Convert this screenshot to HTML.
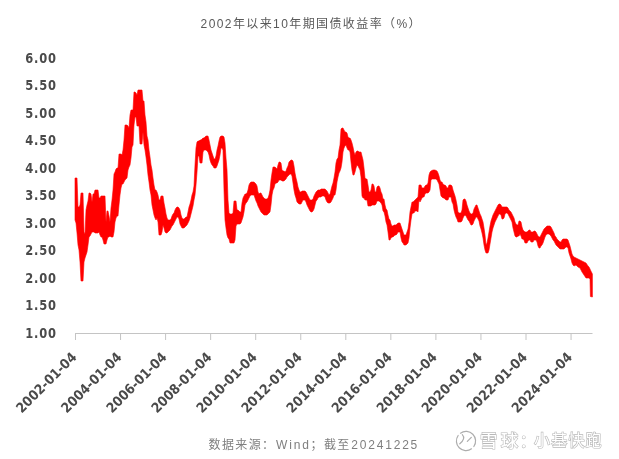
<!DOCTYPE html>
<html><head><meta charset="utf-8"><style>
html,body{margin:0;padding:0;background:#fff;}
body{width:619px;height:459px;overflow:hidden;position:relative;}
svg{position:absolute;left:0;top:0;}
.t{font-family:"Liberation Sans","Noto Sans CJK SC",sans-serif;fill:#595959;}
.lab{font-family:"DejaVu Sans",sans-serif;font-weight:bold;fill:#4a4a4a;font-size:12.5px;}
.wm{font-family:"Liberation Sans","Noto Sans CJK SC",sans-serif;}
</style></head><body>
<svg width="619" height="459" viewBox="0 0 619 459">
<text class="t" x="200.6" y="27.5" font-size="12" letter-spacing="1.4">2002年以来10年期国债收益率（%）</text>
<g class="lab">
<text transform="translate(56.9,62.50) scale(0.92,1.13)" text-anchor="end" letter-spacing="0.9">6.00</text>
<text transform="translate(56.9,90.00) scale(0.92,1.13)" text-anchor="end" letter-spacing="0.9">5.50</text>
<text transform="translate(56.9,117.50) scale(0.92,1.13)" text-anchor="end" letter-spacing="0.9">5.00</text>
<text transform="translate(56.9,145.00) scale(0.92,1.13)" text-anchor="end" letter-spacing="0.9">4.50</text>
<text transform="translate(56.9,172.50) scale(0.92,1.13)" text-anchor="end" letter-spacing="0.9">4.00</text>
<text transform="translate(56.9,200.00) scale(0.92,1.13)" text-anchor="end" letter-spacing="0.9">3.50</text>
<text transform="translate(56.9,227.50) scale(0.92,1.13)" text-anchor="end" letter-spacing="0.9">3.00</text>
<text transform="translate(56.9,255.00) scale(0.92,1.13)" text-anchor="end" letter-spacing="0.9">2.50</text>
<text transform="translate(56.9,282.50) scale(0.92,1.13)" text-anchor="end" letter-spacing="0.9">2.00</text>
<text transform="translate(56.9,310.00) scale(0.92,1.13)" text-anchor="end" letter-spacing="0.9">1.50</text>
<text transform="translate(56.9,337.50) scale(0.92,1.13)" text-anchor="end" letter-spacing="0.9">1.00</text>
</g>
<g stroke="#c4c4c4" stroke-width="1">
<line x1="75" y1="333.5" x2="592.5" y2="333.5"/>
<line x1="75.50" y1="333" x2="75.50" y2="340"/>
<line x1="120.55" y1="333" x2="120.55" y2="340"/>
<line x1="165.60" y1="333" x2="165.60" y2="340"/>
<line x1="210.65" y1="333" x2="210.65" y2="340"/>
<line x1="255.70" y1="333" x2="255.70" y2="340"/>
<line x1="300.75" y1="333" x2="300.75" y2="340"/>
<line x1="345.80" y1="333" x2="345.80" y2="340"/>
<line x1="390.85" y1="333" x2="390.85" y2="340"/>
<line x1="435.90" y1="333" x2="435.90" y2="340"/>
<line x1="480.95" y1="333" x2="480.95" y2="340"/>
<line x1="526.00" y1="333" x2="526.00" y2="340"/>
<line x1="571.05" y1="333" x2="571.05" y2="340"/>
</g>
<g class="lab" style="font-stretch:condensed;font-size:13.7px">
<text transform="translate(77.50,358.00) rotate(-45)" text-anchor="end">2002-01-04</text>
<text transform="translate(122.55,358.00) rotate(-45)" text-anchor="end">2004-01-04</text>
<text transform="translate(167.60,358.00) rotate(-45)" text-anchor="end">2006-01-04</text>
<text transform="translate(212.65,358.00) rotate(-45)" text-anchor="end">2008-01-04</text>
<text transform="translate(257.70,358.00) rotate(-45)" text-anchor="end">2010-01-04</text>
<text transform="translate(302.75,358.00) rotate(-45)" text-anchor="end">2012-01-04</text>
<text transform="translate(347.80,358.00) rotate(-45)" text-anchor="end">2014-01-04</text>
<text transform="translate(392.85,358.00) rotate(-45)" text-anchor="end">2016-01-04</text>
<text transform="translate(437.90,358.00) rotate(-45)" text-anchor="end">2018-01-04</text>
<text transform="translate(482.95,358.00) rotate(-45)" text-anchor="end">2020-01-04</text>
<text transform="translate(528.00,358.00) rotate(-45)" text-anchor="end">2022-01-04</text>
<text transform="translate(573.05,358.00) rotate(-45)" text-anchor="end">2024-01-04</text>
</g>
<polygon points="75.0,178.0 76.0,178.0 77.0,178.0 78.0,207.0 79.0,207.0 80.0,205.0 81.0,193.0 82.0,193.0 83.0,193.0 84.0,232.0 85.0,234.0 86.0,210.0 87.0,205.0 88.0,201.0 89.0,193.0 90.0,193.0 91.0,194.0 92.0,202.0 93.0,194.0 94.0,194.0 95.0,190.0 96.0,190.0 97.0,190.0 98.0,190.0 99.0,198.0 100.0,198.0 101.0,196.0 102.0,196.0 103.0,196.0 104.0,196.0 105.0,196.0 106.0,222.0 107.0,211.0 108.0,211.0 109.0,216.0 110.0,222.0 111.0,208.0 112.0,200.0 113.0,190.0 114.0,174.0 115.0,172.0 116.0,169.0 117.0,168.0 118.0,168.0 119.0,154.0 120.0,154.0 121.0,154.0 122.0,155.0 123.0,150.0 124.0,140.0 125.0,125.0 126.0,125.0 127.0,125.0 128.0,126.0 129.0,128.0 130.0,115.0 131.0,110.0 132.0,110.0 133.0,110.0 134.0,92.0 135.0,92.0 136.0,93.0 137.0,95.0 138.0,90.0 139.0,90.0 140.0,90.0 141.0,90.0 142.0,90.0 143.0,101.0 144.0,101.0 145.0,115.0 146.0,122.0 147.0,136.0 148.0,140.0 149.0,150.0 150.0,157.0 151.0,165.0 152.0,170.0 153.0,178.0 154.0,185.0 155.0,190.0 156.0,190.0 157.0,192.0 158.0,195.0 159.0,200.0 160.0,200.0 161.0,196.0 162.0,196.0 163.0,196.0 164.0,203.0 165.0,208.0 166.0,214.0 167.0,218.0 168.0,220.0 169.0,220.0 170.0,220.0 171.0,219.0 172.0,216.0 173.0,214.0 174.0,213.0 175.0,210.0 176.0,208.0 177.0,207.0 178.0,207.0 179.0,208.0 180.0,210.0 181.0,215.0 182.0,218.0 183.0,219.0 184.0,219.0 185.0,218.0 186.0,217.0 187.0,217.0 188.0,212.0 189.0,207.0 190.0,204.0 191.0,200.0 192.0,195.0 193.0,192.0 194.0,186.0 195.0,165.0 196.0,148.0 197.0,142.0 198.0,141.0 199.0,141.0 200.0,140.0 201.0,140.0 202.0,139.0 203.0,138.0 204.0,138.0 205.0,137.0 206.0,136.0 207.0,136.0 208.0,136.0 209.0,140.0 210.0,145.0 211.0,150.0 212.0,153.0 213.0,156.0 214.0,159.0 215.0,159.0 216.0,156.0 217.0,150.0 218.0,146.0 219.0,141.0 220.0,137.0 221.0,136.0 222.0,136.0 223.0,136.0 224.0,137.0 225.0,143.0 226.0,158.0 227.0,170.0 228.0,200.0 229.0,213.0 230.0,214.0 231.0,214.0 232.0,214.0 233.0,213.0 234.0,201.0 235.0,201.0 236.0,201.0 237.0,210.0 238.0,210.0 239.0,211.0 240.0,212.0 241.0,212.0 242.0,203.0 243.0,198.0 244.0,196.0 245.0,194.0 246.0,194.0 247.0,193.0 248.0,190.0 249.0,185.0 250.0,183.0 251.0,182.0 252.0,182.0 253.0,182.0 254.0,182.0 255.0,183.0 256.0,184.0 257.0,186.0 258.0,192.0 259.0,194.0 260.0,193.0 261.0,193.0 262.0,195.0 263.0,197.0 264.0,198.0 265.0,199.0 266.0,199.0 267.0,199.0 268.0,198.0 269.0,195.0 270.0,190.0 271.0,180.0 272.0,173.0 273.0,167.0 274.0,167.0 275.0,167.0 276.0,168.0 277.0,169.0 278.0,165.0 279.0,162.0 280.0,162.0 281.0,163.0 282.0,170.0 283.0,171.0 284.0,171.0 285.0,172.0 286.0,171.0 287.0,168.0 288.0,166.0 289.0,162.0 290.0,161.0 291.0,160.0 292.0,160.0 293.0,161.0 294.0,166.0 295.0,173.0 296.0,178.0 297.0,182.0 298.0,187.0 299.0,190.0 300.0,192.0 301.0,192.0 302.0,191.0 303.0,191.0 304.0,191.0 305.0,191.0 306.0,192.0 307.0,194.0 308.0,196.0 309.0,198.0 310.0,200.0 311.0,200.0 312.0,200.0 313.0,199.0 314.0,196.0 315.0,194.0 316.0,192.0 317.0,191.0 318.0,190.0 319.0,190.0 320.0,190.0 321.0,189.0 322.0,189.0 323.0,189.0 324.0,189.0 325.0,189.0 326.0,190.0 327.0,191.0 328.0,193.0 329.0,195.0 330.0,194.0 331.0,190.0 332.0,186.0 333.0,183.0 334.0,178.0 335.0,172.0 336.0,163.0 337.0,159.0 338.0,158.0 339.0,150.0 340.0,145.0 341.0,129.0 342.0,128.0 343.0,128.0 344.0,130.0 345.0,132.0 346.0,132.0 347.0,133.0 348.0,137.0 349.0,138.0 350.0,138.0 351.0,140.0 352.0,143.0 353.0,147.0 354.0,152.0 355.0,155.0 356.0,152.0 357.0,151.0 358.0,151.0 359.0,152.0 360.0,152.0 361.0,152.0 362.0,156.0 363.0,160.0 364.0,168.0 365.0,178.0 366.0,179.0 367.0,179.0 368.0,185.0 369.0,192.0 370.0,192.0 371.0,190.0 372.0,184.0 373.0,184.0 374.0,186.0 375.0,192.0 376.0,192.0 377.0,187.0 378.0,186.0 379.0,186.0 380.0,188.0 381.0,192.0 382.0,194.0 383.0,199.0 384.0,199.0 385.0,205.0 386.0,209.0 387.0,210.0 388.0,215.0 389.0,219.0 390.0,220.0 391.0,224.0 392.0,226.0 393.0,226.0 394.0,225.0 395.0,225.0 396.0,225.0 397.0,224.0 398.0,223.0 399.0,223.0 400.0,223.0 401.0,226.0 402.0,229.0 403.0,232.0 404.0,235.0 405.0,235.0 406.0,235.0 407.0,232.0 408.0,229.0 409.0,222.0 410.0,212.0 411.0,207.0 412.0,202.0 413.0,202.0 414.0,201.0 415.0,200.0 416.0,199.0 417.0,198.0 418.0,197.0 419.0,185.0 420.0,185.0 421.0,185.0 422.0,188.0 423.0,188.0 424.0,188.0 425.0,186.0 426.0,185.0 427.0,185.0 428.0,183.0 429.0,175.0 430.0,172.0 431.0,171.0 432.0,170.5 433.0,170.0 434.0,170.0 435.0,170.0 436.0,170.5 437.0,171.0 438.0,173.0 439.0,176.0 440.0,180.0 441.0,182.0 442.0,182.0 443.0,184.0 444.0,185.0 445.0,185.0 446.0,186.0 447.0,188.0 448.0,188.0 449.0,185.0 450.0,185.0 451.0,185.0 452.0,186.0 453.0,190.0 454.0,193.0 455.0,196.0 456.0,200.0 457.0,205.0 458.0,212.0 459.0,213.0 460.0,213.0 461.0,213.0 462.0,210.0 463.0,200.0 464.0,199.0 465.0,199.0 466.0,201.0 467.0,205.0 468.0,208.0 469.0,211.0 470.0,213.0 471.0,214.0 472.0,214.0 473.0,213.0 474.0,209.0 475.0,207.0 476.0,205.0 477.0,205.0 478.0,208.0 479.0,211.0 480.0,214.0 481.0,216.0 482.0,219.0 483.0,222.0 484.0,228.0 485.0,235.0 486.0,245.0 487.0,243.0 488.0,238.0 489.0,232.0 490.0,226.0 491.0,221.0 492.0,218.0 493.0,215.0 494.0,213.0 495.0,211.0 496.0,209.0 497.0,207.0 498.0,205.0 499.0,204.0 500.0,204.0 501.0,205.0 502.0,207.0 503.0,207.0 504.0,207.0 505.0,207.0 506.0,207.0 507.0,207.0 508.0,208.0 509.0,210.0 510.0,211.0 511.0,212.0 512.0,214.0 513.0,216.0 514.0,218.0 515.0,222.0 516.0,224.0 517.0,225.0 518.0,225.0 519.0,221.0 520.0,221.0 521.0,222.0 522.0,227.0 523.0,230.0 524.0,231.0 525.0,232.0 526.0,232.0 527.0,232.0 528.0,231.0 529.0,230.0 530.0,230.0 531.0,232.0 532.0,232.0 533.0,232.0 534.0,231.0 535.0,231.0 536.0,232.0 537.0,234.0 538.0,236.0 539.0,237.0 540.0,237.0 541.0,235.0 542.0,233.0 543.0,231.0 544.0,229.0 545.0,228.0 546.0,227.0 547.0,226.0 548.0,226.0 549.0,226.0 550.0,226.0 551.0,227.0 552.0,229.0 553.0,231.0 554.0,233.0 555.0,236.0 556.0,237.0 557.0,239.0 558.0,240.0 559.0,241.0 560.0,242.0 561.0,242.0 562.0,240.0 563.0,239.0 564.0,239.0 565.0,239.0 566.0,239.0 567.0,239.0 568.0,240.0 569.0,243.0 570.0,246.0 571.0,250.0 572.0,254.0 573.0,256.0 574.0,257.0 576.0,258.0 578.0,259.0 580.0,260.0 582.0,261.0 584.0,262.0 586.0,263.0 588.0,266.0 589.0,267.0 590.0,269.0 590.4,270.0 592.4,274.0 592.4,297.0 590.4,296.5 590.0,279.0 589.0,278.0 588.0,278.0 586.0,278.0 584.0,275.0 582.0,272.0 580.0,268.0 578.0,267.0 576.0,265.0 574.0,266.0 573.0,265.0 572.0,263.0 571.0,259.0 570.0,256.0 569.0,253.0 568.0,248.0 567.0,247.0 566.0,247.0 565.0,248.0 564.0,249.0 563.0,249.0 562.0,249.0 561.0,249.0 560.0,249.0 559.0,248.0 558.0,247.0 557.0,246.0 556.0,245.0 555.0,243.0 554.0,241.0 553.0,240.0 552.0,238.0 551.0,236.0 550.0,235.0 549.0,234.0 548.0,234.0 547.0,234.0 546.0,235.0 545.0,237.0 544.0,240.0 543.0,243.0 542.0,245.0 541.0,246.0 540.0,248.0 539.0,248.0 538.0,246.0 537.0,242.0 536.0,240.0 535.0,240.0 534.0,240.0 533.0,242.0 532.0,242.0 531.0,242.0 530.0,240.0 529.0,240.0 528.0,241.0 527.0,243.0 526.0,243.0 525.0,243.0 524.0,240.0 523.0,239.0 522.0,239.0 521.0,236.0 520.0,234.0 519.0,236.0 518.0,236.0 517.0,237.0 516.0,237.0 515.0,236.0 514.0,232.0 513.0,228.0 512.0,222.0 511.0,220.0 510.0,218.0 509.0,216.0 508.0,214.0 507.0,213.0 506.0,213.0 505.0,214.0 504.0,218.0 503.0,219.0 502.0,219.0 501.0,215.0 500.0,214.0 499.0,214.0 498.0,216.0 497.0,218.0 496.0,220.0 495.0,222.0 494.0,225.0 493.0,228.0 492.0,232.0 491.0,238.0 490.0,244.0 489.0,250.0 488.0,253.0 487.0,253.0 486.0,253.0 485.0,250.0 484.0,245.0 483.0,238.0 482.0,233.0 481.0,229.0 480.0,226.0 479.0,221.0 478.0,219.0 477.0,217.0 476.0,217.0 475.0,219.0 474.0,221.0 473.0,224.0 472.0,225.0 471.0,225.0 470.0,223.0 469.0,221.0 468.0,220.0 467.0,218.0 466.0,216.0 465.0,215.0 464.0,216.0 463.0,218.0 462.0,221.0 461.0,222.0 460.0,222.0 459.0,222.0 458.0,222.0 457.0,219.0 456.0,217.0 455.0,214.0 454.0,210.0 453.0,204.0 452.0,202.0 451.0,197.0 450.0,197.0 449.0,197.0 448.0,200.0 447.0,200.0 446.0,200.0 445.0,199.0 444.0,198.0 443.0,198.0 442.0,197.0 441.0,196.0 440.0,190.0 439.0,184.0 438.0,182.0 437.0,180.0 436.0,179.0 435.0,179.0 434.0,179.0 433.0,179.0 432.0,179.0 431.0,180.0 430.0,190.0 429.0,192.0 428.0,193.0 427.0,193.0 426.0,193.0 425.0,194.0 424.0,197.0 423.0,197.0 422.0,198.0 421.0,200.0 420.0,202.0 419.0,200.0 418.0,212.0 417.0,211.0 416.0,211.0 415.0,211.0 414.0,213.0 413.0,213.0 412.0,214.0 411.0,220.0 410.0,228.0 409.0,238.0 408.0,243.0 407.0,244.0 406.0,245.0 405.0,245.0 404.0,245.0 403.0,243.0 402.0,242.0 401.0,238.0 400.0,232.0 399.0,232.0 398.0,232.0 397.0,234.0 396.0,235.0 395.0,235.0 394.0,236.0 393.0,237.0 392.0,237.0 391.0,238.0 390.0,240.0 389.0,240.0 388.0,232.0 387.0,225.0 386.0,222.0 385.0,216.0 384.0,212.0 383.0,211.0 382.0,205.0 381.0,203.0 380.0,202.0 379.0,201.0 378.0,201.0 377.0,201.0 376.0,204.0 375.0,205.0 374.0,205.0 373.0,205.0 372.0,205.0 371.0,206.0 370.0,206.0 369.0,206.0 368.0,206.0 367.0,200.0 366.0,200.0 365.0,200.0 364.0,198.0 363.0,198.0 362.0,196.0 361.0,177.0 360.0,170.0 359.0,168.0 358.0,166.0 357.0,165.0 356.0,168.0 355.0,172.0 354.0,175.0 353.0,175.0 352.0,170.0 351.0,162.0 350.0,152.0 349.0,150.0 348.0,150.0 347.0,148.0 346.0,145.0 345.0,146.0 344.0,148.0 343.0,152.0 342.0,162.0 341.0,168.0 340.0,171.0 339.0,173.0 338.0,177.0 337.0,182.0 336.0,190.0 335.0,195.0 334.0,195.0 333.0,198.0 332.0,200.0 331.0,202.0 330.0,203.0 329.0,203.0 328.0,203.0 327.0,202.0 326.0,200.0 325.0,197.0 324.0,196.0 323.0,196.0 322.0,196.0 321.0,197.0 320.0,197.0 319.0,197.0 318.0,198.0 317.0,200.0 316.0,201.0 315.0,205.0 314.0,209.0 313.0,211.0 312.0,212.0 311.0,212.0 310.0,211.0 309.0,209.0 308.0,207.0 307.0,205.0 306.0,202.0 305.0,200.0 304.0,200.0 303.0,200.0 302.0,202.0 301.0,204.0 300.0,204.0 299.0,204.0 298.0,203.0 297.0,202.0 296.0,198.0 295.0,195.0 294.0,190.0 293.0,183.0 292.0,176.0 291.0,174.0 290.0,174.0 289.0,175.0 288.0,176.0 287.0,177.0 286.0,179.0 285.0,180.0 284.0,181.0 283.0,181.0 282.0,181.0 281.0,180.0 280.0,180.0 279.0,180.0 278.0,182.0 277.0,183.0 276.0,183.0 275.0,184.0 274.0,188.0 273.0,190.0 272.0,195.0 271.0,205.0 270.0,212.0 269.0,213.0 268.0,214.0 267.0,215.0 266.0,215.0 265.0,215.0 264.0,215.0 263.0,214.0 262.0,213.0 261.0,212.0 260.0,210.0 259.0,208.0 258.0,206.0 257.0,203.0 256.0,201.0 255.0,198.0 254.0,195.0 253.0,195.0 252.0,195.0 251.0,195.0 250.0,196.0 249.0,198.0 248.0,200.0 247.0,202.0 246.0,203.0 245.0,205.0 244.0,212.0 243.0,217.0 242.0,220.0 241.0,223.0 240.0,224.0 239.0,224.0 238.0,224.0 237.0,224.0 236.0,226.0 235.0,240.0 234.0,243.0 233.0,243.0 232.0,243.0 231.0,243.0 230.0,243.0 229.0,239.0 228.0,238.0 227.0,235.0 226.0,228.0 225.0,220.0 224.0,190.0 223.0,150.0 222.0,148.0 221.0,148.0 220.0,155.0 219.0,160.0 218.0,163.0 217.0,166.0 216.0,168.0 215.0,168.0 214.0,168.0 213.0,166.0 212.0,165.0 211.0,163.0 210.0,160.0 209.0,155.0 208.0,152.0 207.0,151.0 206.0,150.0 205.0,150.0 204.0,150.0 203.0,152.0 202.0,163.0 201.0,163.0 200.0,163.0 199.0,156.0 198.0,156.0 197.0,172.0 196.0,185.0 195.0,195.0 194.0,200.0 193.0,206.0 192.0,210.0 191.0,214.0 190.0,218.0 189.0,221.0 188.0,223.0 187.0,225.0 186.0,226.0 185.0,227.0 184.0,228.0 183.0,228.0 182.0,228.0 181.0,226.0 180.0,224.0 179.0,219.0 178.0,217.0 177.0,217.0 176.0,219.0 175.0,221.0 174.0,223.0 173.0,225.0 172.0,226.0 171.0,228.0 170.0,230.0 169.0,231.0 168.0,232.0 167.0,233.0 166.0,233.0 165.0,232.0 164.0,228.0 163.0,225.0 162.0,232.0 161.0,235.0 160.0,235.0 159.0,235.0 158.0,222.0 157.0,218.0 156.0,220.0 155.0,218.0 154.0,215.0 153.0,210.0 152.0,205.0 151.0,195.0 150.0,190.0 149.0,182.0 148.0,175.0 147.0,165.0 146.0,157.0 145.0,150.0 144.0,145.0 143.0,132.0 142.0,144.0 141.0,144.0 140.0,144.0 139.0,126.0 138.0,126.0 137.0,126.0 136.0,117.0 135.0,117.0 134.0,125.0 133.0,145.0 132.0,147.0 131.0,158.0 130.0,165.0 129.0,167.0 128.0,170.0 127.0,178.0 126.0,179.0 125.0,180.0 124.0,182.0 123.0,184.0 122.0,184.0 121.0,188.0 120.0,195.0 119.0,205.0 118.0,216.0 117.0,216.0 116.0,218.0 115.0,222.0 114.0,232.0 113.0,237.0 112.0,237.0 111.0,237.0 110.0,236.0 109.0,237.0 108.0,237.0 107.0,240.0 106.0,244.0 105.0,244.0 104.0,244.0 103.0,240.0 102.0,237.0 101.0,237.0 100.0,235.0 99.0,232.0 98.0,233.0 97.0,233.0 96.0,233.0 95.0,233.0 94.0,232.0 93.0,232.0 92.0,232.0 91.0,234.0 90.0,236.0 89.0,237.0 88.0,245.0 87.0,252.0 86.0,255.0 85.0,258.0 84.0,262.0 83.0,281.0 82.0,281.0 81.0,281.0 80.0,262.0 79.0,250.0 78.0,245.0 77.0,233.0 76.0,223.0 75.0,220.0" fill="#ff0000" stroke="#ff0000" stroke-width="0.6" stroke-linejoin="round"/>
<text class="t" x="208.5" y="448.8" font-size="12" style="fill:#7f7f7f" letter-spacing="1.4">数据来源：<tspan x="276" letter-spacing="1.9">Wind</tspan><tspan x="310.5">；截至</tspan><tspan x="351.3" letter-spacing="1.8">20241225</tspan></text>
<g class="wm">
<g fill="none" stroke="#adadad" stroke-width="1.2" stroke-linecap="round">
<path d="M460.49 433.14 A9.6 9.6 0 0 1 473.86 446.51"/>
<path d="M471.51 448.86 A9.6 9.6 0 0 1 458.14 435.49"/>
<path d="M462.3 434.6 Q466 438.5 459.8 443.8"/>
<path d="M471.3 437.3 L467.3 441.3"/>
</g>
<g style="font-family:'Liberation Sans','Noto Sans CJK SC',sans-serif" fill="#fff" stroke="#b8b8b8" stroke-width="1.2" paint-order="stroke">
<text x="480" y="446.5" font-size="17.5" font-weight="500">雪<tspan x="500.8">球</tspan></text>
<text x="519.5" y="446.5" font-size="17">：</text>
<text x="534" y="446.3" font-size="16" letter-spacing="1.2">小基快跑</text>
</g>
</g>
</svg>
</body></html>
